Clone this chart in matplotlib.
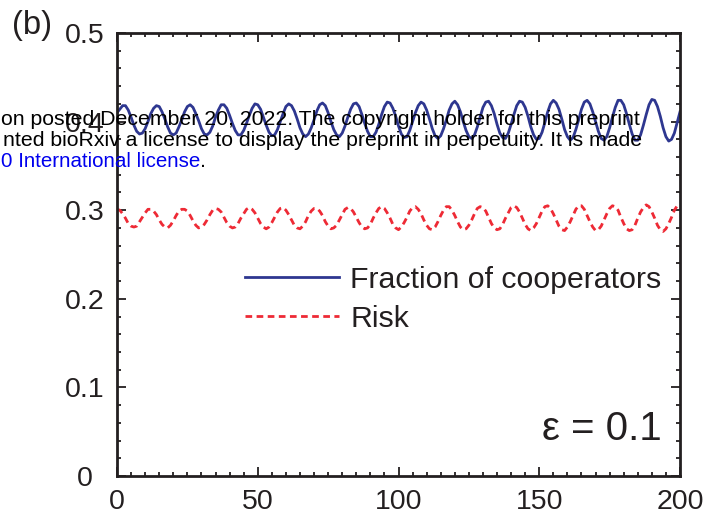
import numpy as np
import matplotlib
matplotlib.use("Agg")
import matplotlib.pyplot as plt
from matplotlib.ticker import MultipleLocator

plt.rcParams['font.family'] = ['Liberation Sans', 'DejaVu Sans']

# ---------------- data ----------------
time = np.arange(0, 201)

cooperators = [
    0.410, 0.414, 0.418, 0.418, 0.413, 0.405, 0.396, 0.389, 0.386, 0.387,
    0.392, 0.400, 0.409, 0.415, 0.418, 0.417, 0.411, 0.403, 0.394, 0.387,
    0.385, 0.387, 0.394, 0.402, 0.411, 0.417, 0.419, 0.416, 0.409, 0.401,
    0.392, 0.386, 0.385, 0.388, 0.395, 0.405, 0.413, 0.419, 0.419, 0.415,
    0.407, 0.398, 0.390, 0.385, 0.385, 0.390, 0.398,
    0.407, 0.415, 0.420, 0.419, 0.414, 0.405, 0.396, 0.388, 0.384, 0.385,
    0.391, 0.400, 0.409, 0.417, 0.420, 0.418, 0.412, 0.403, 0.393, 0.386,
    0.383, 0.386, 0.393, 0.402, 0.412, 0.419, 0.421, 0.418, 0.410, 0.400,
    0.391, 0.385, 0.383, 0.387, 0.395, 0.405, 0.414, 0.420, 0.421, 0.417,
    0.408, 0.398, 0.389, 0.383, 0.383, 0.388, 0.397,
    0.408, 0.417, 0.422, 0.421, 0.415, 0.406, 0.395, 0.386, 0.382, 0.383,
    0.390, 0.400, 0.410, 0.418, 0.422, 0.420, 0.413, 0.403, 0.392, 0.384,
    0.381, 0.384, 0.392, 0.402, 0.413, 0.420, 0.423, 0.419, 0.411, 0.400,
    0.390, 0.383, 0.381, 0.385, 0.394, 0.405, 0.416, 0.422, 0.423, 0.418,
    0.409, 0.397, 0.387, 0.382, 0.381, 0.387, 0.397,
    0.408, 0.418, 0.423, 0.422, 0.416, 0.406, 0.394, 0.385, 0.380, 0.381,
    0.388, 0.399, 0.411, 0.420, 0.424, 0.421, 0.414, 0.403, 0.391, 0.383,
    0.379, 0.382, 0.391, 0.402, 0.414, 0.422, 0.424, 0.420, 0.411, 0.400,
    0.389, 0.381, 0.379, 0.383, 0.393, 0.405, 0.416, 0.424, 0.424, 0.419,
    0.409, 0.397, 0.386, 0.379, 0.379, 0.385, 0.396,
    0.408, 0.419, 0.425, 0.424, 0.417, 0.406, 0.393, 0.383, 0.378, 0.380,
    0.387, 0.399, 0.411,
]

risk = [
    0.301, 0.300, 0.296, 0.291, 0.285, 0.282, 0.281, 0.282, 0.287, 0.292,
    0.297, 0.301, 0.301, 0.299, 0.295, 0.289, 0.284, 0.281, 0.280, 0.283,
    0.288, 0.294, 0.299, 0.301, 0.301, 0.299, 0.294, 0.288, 0.283, 0.280,
    0.281, 0.284, 0.289, 0.295, 0.300, 0.302, 0.301, 0.298, 0.292, 0.286,
    0.282, 0.280, 0.281, 0.285, 0.291, 0.296, 0.301,
    0.303, 0.301, 0.297, 0.291, 0.285, 0.281, 0.279, 0.281, 0.286, 0.292,
    0.298, 0.302, 0.303, 0.300, 0.295, 0.289, 0.283, 0.280, 0.279, 0.282,
    0.287, 0.294, 0.299, 0.302, 0.302, 0.299, 0.294, 0.287, 0.282, 0.279,
    0.280, 0.283, 0.289, 0.295, 0.301, 0.303, 0.302, 0.298, 0.292, 0.286,
    0.281, 0.279, 0.280, 0.284, 0.291, 0.297, 0.302,
    0.304, 0.302, 0.297, 0.291, 0.284, 0.280, 0.278, 0.281, 0.286, 0.292,
    0.299, 0.303, 0.304, 0.301, 0.296, 0.289, 0.283, 0.279, 0.278, 0.281,
    0.287, 0.294, 0.300, 0.304, 0.304, 0.300, 0.294, 0.287, 0.281, 0.278,
    0.279, 0.283, 0.289, 0.296, 0.302, 0.304, 0.303, 0.299, 0.292, 0.285,
    0.280, 0.278, 0.279, 0.284, 0.291, 0.297, 0.303,
    0.305, 0.303, 0.298, 0.291, 0.284, 0.279, 0.277, 0.280, 0.285, 0.292,
    0.299, 0.304, 0.305, 0.302, 0.296, 0.289, 0.282, 0.278, 0.277, 0.281,
    0.287, 0.294, 0.301, 0.305, 0.305, 0.301, 0.294, 0.287, 0.281, 0.277,
    0.278, 0.282, 0.289, 0.296, 0.302, 0.305, 0.304, 0.300, 0.292, 0.285,
    0.279, 0.277, 0.278, 0.283, 0.291, 0.298, 0.303,
    0.306, 0.304, 0.298, 0.291, 0.283, 0.278, 0.276, 0.279, 0.285, 0.292,
    0.300, 0.305, 0.306,
]

series_labels = ["Fraction of cooperators", "Risk"]
x_ticks = [0, 50, 100, 150, 200]
x_tick_labels = ["0", "50", "100", "150", "200"]
y_ticks = [0, 0.1, 0.2, 0.3, 0.4, 0.5]
y_tick_labels = ["0", "0.1", "0.2", "0.3", "0.4", "0.5"]

# ---------------- figure ----------------
fig = plt.figure(figsize=(7.25, 5.22), dpi=100)
ax = fig.add_axes([117/725, 1-476/522, (680-117)/725, (476-33)/522])

blue = "#2e3790"
red = "#ee2a35"
ax.plot(time, cooperators, color=blue, lw=2.0, label=series_labels[0],
        solid_joinstyle='round')
ax.plot(time, risk, color=red, lw=2.0, ls=(0, (2.4, 1.6)), label=series_labels[1])

ax.set_xlim(0, 200)
ax.set_ylim(0, 0.5)
ax.set_xticks(x_ticks)
ax.set_xticklabels(x_tick_labels)
ax.set_yticks(y_ticks)
ax.set_yticklabels(y_tick_labels)
ax.xaxis.set_minor_locator(MultipleLocator(5))
ax.yaxis.set_minor_locator(MultipleLocator(0.02))

for sp in ax.spines.values():
    sp.set_linewidth(2.0)
    sp.set_color("#231f20")

ax.tick_params(which='both', direction='in', top=True, right=True,
               color="#231f20", width=1.3)
ax.tick_params(which='major', length=6.5)
ax.tick_params(which='minor', length=3)
ax.tick_params(axis='x', which='major', labelsize=20.5, pad=9.5, labelcolor="#231f20")
ax.tick_params(axis='y', which='major', labelsize=20.5, pad=23.5, labelcolor="#231f20")
for lab in ax.get_yticklabels():
    lab.set_horizontalalignment('center')

leg = ax.legend(loc='upper left', bbox_to_anchor=((245-117)/563, (476-266)/443),
                frameon=False, fontsize=21.8, handlelength=3.1, handletextpad=0.37,
                labelspacing=0.36, borderpad=0, borderaxespad=0)
for t in leg.get_texts():
    t.set_color("#231f20")

ax.text((662-117)/563, (476-440)/443, "ε = 0.1", transform=ax.transAxes,
        ha='right', va='baseline', fontsize=29, color="#231f20")

fig.text(12/725, 1-10/522, "(b)", ha='left', va='top', fontsize=23.5, color="#231f20")

# bioRxiv watermark overlay
fig.text(640/725, 1-125/522,
         "on posted December 20, 2022. The copyright holder for this preprint",
         ha='right', va='baseline', fontsize=15.3, color='black', zorder=10)
fig.text(642/725, 1-146.5/522,
         "nted bioRxiv a license to display the preprint in perpetuity. It is made",
         ha='right', va='baseline', fontsize=15.3, color='black', zorder=10)
fig.text(1/725, 1-167/522, "0 International license",
         ha='left', va='baseline', fontsize=14.8, color='#0000ee', zorder=10)
fig.text(200/725, 1-167/522, ".", ha='left', va='baseline', fontsize=15.3,
         color='black', zorder=10)

fig.savefig("out.png", dpi=100)
